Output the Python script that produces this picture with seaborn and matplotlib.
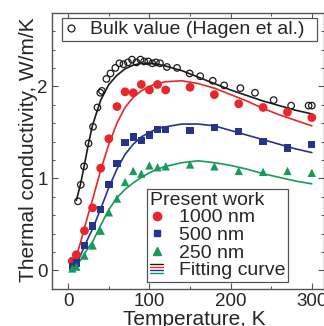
import matplotlib.pyplot as plt
import numpy as np
import pandas as pd
import seaborn as sns
from matplotlib.legend_handler import HandlerBase
from matplotlib.lines import Line2D

# ---- data ----
# bulk values (Hagen et al.), open circles
bulk_T = [12, 15.5, 19.5, 25, 30.5, 36, 39.5, 41.5, 47, 52, 58, 63, 68, 73.5,
          78.5, 84, 89, 93.5, 98.5, 103.5, 108, 113, 121.5, 134, 149.5, 162.5,
          178, 192, 212, 230, 253, 274.5, 296, 300]
bulk_k = [0.75, 0.93, 1.13, 1.38, 1.56, 1.77, 1.93, 1.95, 2.08, 2.14, 2.20,
          2.25, 2.24, 2.26, 2.29, 2.26, 2.29, 2.27, 2.27, 2.25, 2.26, 2.25,
          2.21, 2.20, 2.14, 2.11, 2.06, 2.01, 1.98, 1.93, 1.85, 1.79, 1.79, 1.79]

# present work, measured points
meas_T = [5, 10, 20, 30, 40, 50, 60, 70, 80, 90, 100, 110, 120, 150, 180, 210,
          240, 270, 300]
k_1000 = [0.10, 0.17, 0.43, 0.68, 1.11, 1.43, 1.78, 1.94, 1.93, 2.02, 1.96,
          2.02, 1.96, 1.99, 1.91, 1.81, 1.77, 1.72, 1.66]
k_500 = [0.04, 0.08, 0.27, 0.48, 0.66, 0.93, 1.16, 1.39, 1.45, 1.41, 1.47,
         1.53, 1.53, 1.52, 1.55, 1.51, 1.40, 1.33, 1.37]
k_250 = [0.02, 0.04, 0.16, 0.27, 0.43, 0.63, 0.78, 0.96, 1.08, 1.05, 1.14,
         1.12, 1.13, 1.15, 1.13, 1.08, 1.07, 1.08, 1.06]

# fitting curves
fit_T = [5, 10, 15, 20, 25, 30, 40, 50, 60, 70, 80, 90, 100, 110, 120, 140,
         160, 180, 200, 220, 240, 260, 280, 300]
fit_bulk = [np.nan, 0.76, 0.93, 1.15, 1.38, 1.58, 1.85, 2.02, 2.12, 2.19, 2.23,
            2.25, 2.25, 2.24, 2.22, 2.17, 2.10, 2.03, 1.96, 1.90, 1.84, 1.79,
            1.74, 1.70]
fit_1000 = [0.0, 0.15, 0.30, 0.46, 0.62, 0.77, 1.09, 1.37, 1.60, 1.77, 1.88,
            1.95, 2.00, 2.03, 2.05, 2.06, 2.03, 1.98, 1.91, 1.84, 1.76, 1.69,
            1.63, 1.57]
fit_500 = [0.0, 0.07, 0.16, 0.26, 0.36, 0.45, 0.67, 0.90, 1.10, 1.26, 1.37,
           1.45, 1.50, 1.54, 1.56, 1.59, 1.59, 1.57, 1.52, 1.47, 1.42, 1.37,
           1.32, 1.28]
fit_250 = [0.0, 0.05, 0.11, 0.18, 0.25, 0.31, 0.49, 0.66, 0.79, 0.88, 0.95,
           1.01, 1.06, 1.10, 1.13, 1.17, 1.19, 1.17, 1.14, 1.10, 1.05, 1.01,
           0.97, 0.94]

c_black = '#1a1a1a'
c_red = '#e8262b'
c_blue = '#26348c'
c_green = '#189a5a'

sns.set_style('ticks')
plt.rcParams['font.family'] = ['Liberation Sans', 'DejaVu Sans']


class FitHandler(HandlerBase):
    # four stacked short lines for the "Fitting curve" entry
    def create_artists(self, legend, orig_handle, xdescent, ydescent,
                       width, height, fontsize, trans):
        cols = [c_black, c_red, c_blue, c_green]
        arts = []
        for i, c in enumerate(cols):
            y = height * 0.5 + (1.5 - i) * 2.0 - ydescent
            ln = Line2D([-xdescent, width - xdescent], [y, y], color=c, lw=1.0)
            ln.set_transform(trans)
            arts.append(ln)
        return arts


fig = plt.figure(figsize=(3.24, 3.26), dpi=100)
ax = fig.add_axes([0.1605, 0.1144, 0.8395, 0.8466])

df_fit = pd.DataFrame({'T': fit_T, 'bulk': fit_bulk, '1000': fit_1000,
                       '500': fit_500, '250': fit_250})
for col, c in [('bulk', c_black), ('1000', c_red), ('500', c_blue),
               ('250', c_green)]:
    d = df_fit[['T', col]].dropna()
    sns.lineplot(x=d['T'], y=d[col], color=c, lw=1.2, ax=ax, zorder=2)

sns.scatterplot(x=bulk_T, y=bulk_k, marker='o', s=22, facecolor='none',
                edgecolor=c_black, linewidth=0.9, ax=ax, zorder=3)
sns.scatterplot(x=meas_T, y=k_1000, marker='o', s=40, color=c_red,
                edgecolor='none', ax=ax, zorder=3)
sns.scatterplot(x=meas_T, y=k_500, marker='s', s=28, color=c_blue,
                edgecolor='none', ax=ax, zorder=3)
sns.scatterplot(x=meas_T, y=k_250, marker='^', s=36, color=c_green,
                edgecolor='none', ax=ax, zorder=3)

ax.set_xlim(-20, 315)
ax.set_ylim(-0.2, 2.8)
ax.set_xticks([0, 100, 200, 300])
ax.set_xticks([50, 150, 250], minor=True)
ax.set_yticks([0, 1, 2])
ax.set_yticks(np.arange(0.2, 2.8, 0.2), minor=True)
ax.tick_params(which='both', direction='in', top=True, right=True,
               labelsize=13.5, color='#555555')
ax.tick_params(which='major', length=4.5, width=0.8, pad=3.0)
ax.tick_params(which='minor', length=2.2, width=0.7)
for sp in ax.spines.values():
    sp.set_color('#555555')
    sp.set_linewidth(1.0)

ax.set_xlabel('Temperature, K', fontsize=15)
ax.set_ylabel('Thermal conductivity, W/m/K', fontsize=15)
ax.xaxis.set_label_coords(0.522, -0.078)
ax.yaxis.set_label_coords(-0.053, 0.505)

# upper legend: bulk value
h_bulk = Line2D([], [], marker='o', ls='none', mfc='none', mec=c_black,
                mew=0.9, ms=5)
leg1 = ax.legend([h_bulk], ['Bulk value (Hagen et al.)'], loc='upper left',
                 bbox_to_anchor=(0.037, 0.891, 0.9375, 0.09), mode='expand',
                 fontsize=14, frameon=True, fancybox=False, framealpha=1,
                 edgecolor='#555555', handlelength=0.6, handletextpad=0.7,
                 borderpad=0.15, borderaxespad=0)
leg1.get_frame().set_linewidth(0.9)
ax.add_artist(leg1)

# lower legend: present work
h_1000 = Line2D([], [], marker='o', ls='none', color=c_red, ms=6)
h_500 = Line2D([], [], marker='s', ls='none', color=c_blue, ms=5)
h_250 = Line2D([], [], marker='^', ls='none', color=c_green, ms=6)
h_fit = object()
leg2 = ax.legend([h_1000, h_500, h_250, h_fit],
                 ['1000 nm', '500 nm', '250 nm', 'Fitting curve'],
                 handler_map={h_fit: FitHandler()},
                 title='Present work', title_fontsize=14, alignment='left',
                 loc='lower left', bbox_to_anchor=(0.349, 0.024, 0.518, 0.359),
                 mode='expand', fontsize=14, frameon=True, fancybox=False,
                 framealpha=1, edgecolor='#555555', handlelength=0.7,
                 handletextpad=0.8, borderpad=0.15, labelspacing=0.0,
                 borderaxespad=0)
leg2.get_frame().set_linewidth(0.9)

fig.savefig('out.png', dpi=100)
